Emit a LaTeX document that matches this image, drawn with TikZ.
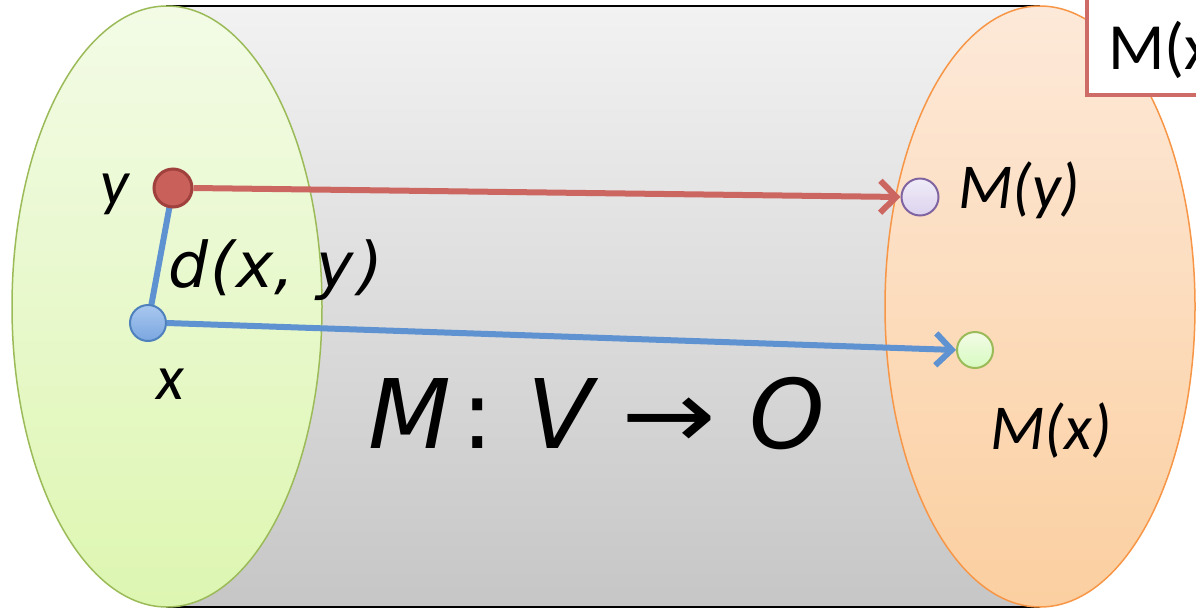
\documentclass[tikz,border=0pt]{standalone}
\usepackage{fontspec}
\usepackage{graphicx}
\setmainfont{Carlito}
\newfontfamily\dv{DejaVu Sans}
\usetikzlibrary{arrows.meta}
\definecolor{grtop}{HTML}{F2F2F2}
\definecolor{grbot}{HTML}{C6C6C6}
\definecolor{gntop}{HTML}{F3FBE6}
\definecolor{gnbot}{HTML}{DDF6B1}
\definecolor{gnline}{HTML}{9BBB59}
\definecolor{ortop}{HTML}{FDE9D9}
\definecolor{orbot}{HTML}{FBCFA0}
\definecolor{orline}{HTML}{F79646}
\definecolor{redfill}{HTML}{C9605A}
\definecolor{redline}{HTML}{A0413D}
\definecolor{redarrow}{HTML}{CC6661}
\definecolor{bluetop}{HTML}{A9C8EF}
\definecolor{bluebot}{HTML}{7AA6E0}
\definecolor{blueline}{HTML}{4F81BD}
\definecolor{bluearrow}{HTML}{5E92D0}
\definecolor{lavtop}{HTML}{F0ECF8}
\definecolor{lavbot}{HTML}{DCD3EE}
\definecolor{lavline}{HTML}{8064A2}
\definecolor{boxred}{HTML}{CF6B67}
\tikzset{
  pt/.style={circle, minimum size=36pt, inner sep=0pt, line width=2pt},
  ptred/.style={pt, minimum size=38pt, fill=redfill, draw=redline, line width=3pt},
  ptblue/.style={pt, top color=bluetop, bottom color=bluebot, draw=blueline},
  ptlav/.style={pt, minimum size=37pt, top color=lavtop, bottom color=lavbot, draw=lavline},
  ptgreen/.style={pt, top color=gntop, bottom color=gnbot!85!green!60!white, draw=gnline},
  conn/.style={line width=6pt},
  tip/.style={-{Straight Barb[length=16pt,width=32pt,line width=6pt]}},
  lbl/.style={font=\fontsize{64}{68}\selectfont\itshape, inner sep=0pt},
  big/.style={font=\dv\itshape, inner sep=0pt},
}
\begin{document}
\begin{tikzpicture}[x=1pt,y=-1pt]
\useasboundingbox (0,0) rectangle (1196,611);
% cylinder body
\path[top color=grtop, bottom color=grbot] (166,6) rectangle (1040,607);
\draw[line width=1.5pt] (166,6) -- (1040,6);
\draw[line width=1.5pt] (166,607) -- (1040,607);
% left ellipse
\path[top color=gntop, bottom color=gnbot, draw=gnline, line width=1.5pt]
  (167,306.5) ellipse [x radius=155pt, y radius=300.5pt];
% right ellipse
\path[top color=ortop, bottom color=orbot, draw=orline, line width=1.5pt]
  (1040,306.5) ellipse [x radius=155pt, y radius=300.5pt];
% top-right box
\node[draw=boxred, line width=4pt, fill=white, minimum width=160pt, minimum height=120pt,
      anchor=south west, inner sep=0pt] (box) at (1085,97) {};
\node[font=\fontsize{66}{70}\selectfont, inner sep=0pt, anchor=base west] (boxtxt) at (1108,69) {M(x};
% points
\node[ptlav] (my) at (920,197) {};
\node[ptgreen] (mx) at (975,350) {};
% connectors
\draw[conn, bluearrow] (173,188) coordinate (yc) -- (148,323) coordinate (xc);
\node[ptblue] (x) at (xc) {};
\node[ptred] (y) at (yc) {};
\draw[conn, redarrow, tip] (y.east) -- (my.west);
\draw[conn, bluearrow, tip] (x.east) -- (mx.west);
% labels
\node[lbl, anchor=base] (ylbl) at (115,204) {y};
\node[lbl, anchor=base] (xlbl) at (170,399) {x};
\node[lbl, anchor=base west] (mylbl) at (958,208) {M(y)};
\node[lbl, anchor=base west] (mxlbl) at (990,449) {M(x)};
\node[big, font=\dv\itshape\fontsize{63}{66}\selectfont, anchor=base west] (dxy) at (168,287)
  {d\hspace{2pt}(\hspace{2pt}x,\hspace{22pt}y\hspace{5pt})};
\node[big, font=\dv\itshape\fontsize{96}{100}\selectfont, anchor=base west] (map) at (368,448)
  {M\hspace{10pt}{\upshape :}\hspace{34pt}V\hspace{28pt}{\upshape\scalebox{1.18}[1]{→}}\hspace{34pt}O};
\end{tikzpicture}
\end{document}
